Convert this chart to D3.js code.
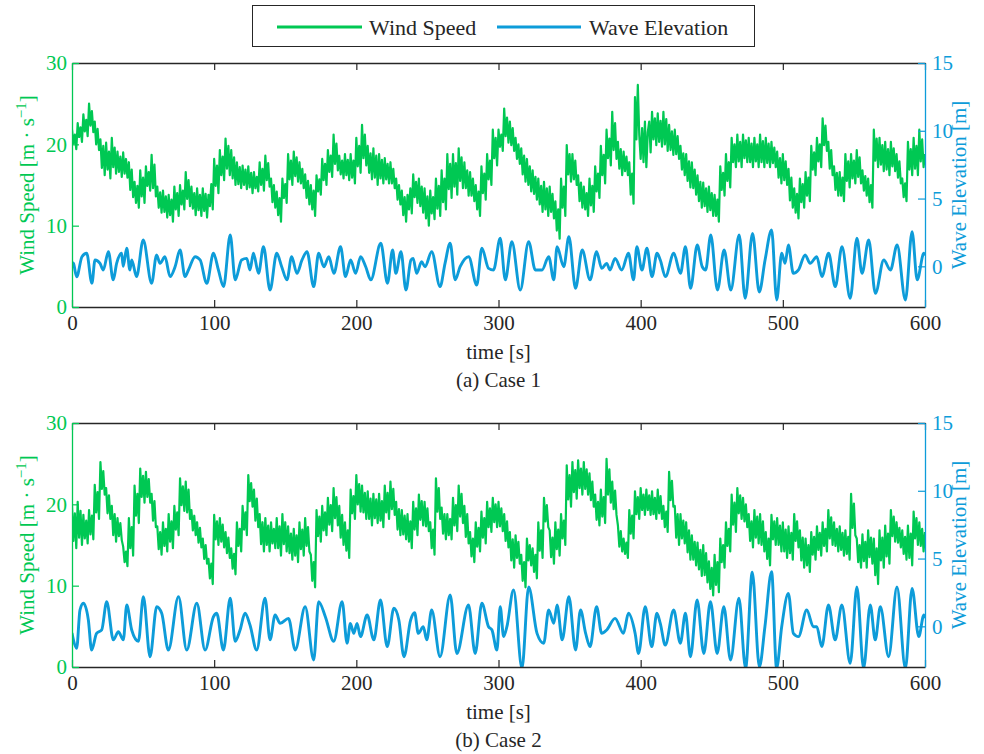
<!DOCTYPE html>
<html><head><meta charset="utf-8">
<script src="https://cdn.jsdelivr.net/npm/d3@7"></script>
<style>body{margin:0;background:#fff}svg{display:block}svg text{font-family:"Liberation Serif","DejaVu Serif",serif}</style>
</head><body><svg id="c" width="984" height="754"></svg>
<script>
// ---------- DATA ----------
const windStep = 1; // seconds between wind samples
const wind1 = [
21.8,20.1,21.2,19.4, 22.6,20.9,22.1,20.3, 23.7,21.6,23.0,21.0, 25.0,22.3,24.1,21.5, 22.8,20.0,21.9,19.3,
20.6,17.1,19.8,16.2, 20.2,16.9,19.1,15.8, 20.8,17.2,19.6,16.4, 19.1,16.6,18.5,16.0, 19.0,16.4,18.2,15.9,
17.8,14.4,16.9,13.5, 15.4,12.8,14.9,12.2, 16.8,13.6,15.9,12.8, 17.3,14.9,16.6,14.3, 18.7,14.6,17.5,13.6,
14.8,12.2,14.1,11.6, 14.3,11.7,13.6,11.0, 13.8,11.3,13.2,10.5, 14.8,12.0,14.0,11.2, 15.0,12.6,14.3,12.0,
16.6,13.3,15.6,12.4, 14.8,12.1,14.0,11.3, 14.6,11.9,13.8,11.2, 14.6,11.8,13.9,11.0, 13.8,12.4,15.1,12.0,
18.2,14.9,17.4,14.0, 19.3,16.2,18.5,15.6, 20.7,17.0,19.8,16.2, 19.3,15.8,18.4,15.0, 17.8,15.1,17.2,14.6,
17.4,15.0,16.9,14.5, 17.3,14.7,16.5,14.0, 16.6,14.6,16.0,14.2, 17.8,15.0,17.0,14.3, 18.6,15.6,17.7,14.8,
15.8,12.9,15.0,12.2, 14.2,11.3,13.4,10.5, 15.8,13.4,15.1,12.8, 18.8,15.7,18.0,15.0, 19.1,16.1,18.4,15.4,
17.8,15.2,17.0,14.6, 16.3,13.4,15.5,12.6, 15.0,12.0,14.3,11.2, 16.2,14.2,15.7,13.8, 18.2,15.6,17.6,15.0,
19.3,16.6,18.6,16.0, 21.2,17.6,20.1,16.8, 18.6,16.3,18.0,15.8, 18.8,16.2,18.1,15.6, 18.8,15.9,18.0,15.2,
20.8,17.3,19.8,16.5, 22.4,18.3,21.2,17.4, 19.8,16.5,18.9,15.7, 19.5,15.9,18.6,15.0, 18.8,15.8,18.1,15.2,
18.3,15.7,17.6,15.2, 17.8,15.2,17.0,14.6, 15.8,13.2,15.0,12.6, 14.3,11.3,13.5,10.5, 13.8,12.0,14.6,11.5,
16.3,13.5,15.4,12.8, 15.8,12.4,14.8,11.6, 14.6,10.9,13.6,10.0, 14.3,11.5,13.5,10.8, 15.8,12.1,14.9,11.2,
16.8,12.9,15.8,12.0, 18.8,14.5,17.6,13.4, 18.8,14.8,17.7,13.8, 19.5,15.5,18.4,14.6, 17.8,14.6,16.8,13.7,
16.6,13.7,15.8,13.0, 15.0,12.0,14.2,11.2, 17.3,14.0,16.4,13.2, 18.8,15.7,18.0,15.0, 21.8,18.3,20.8,17.4,
21.8,19.7,21.2,19.2, 24.4,21.0,23.3,20.2, 22.8,19.9,22.0,19.2, 20.8,18.2,20.0,17.6, 19.5,16.3,18.6,15.4,
18.2,15.0,17.3,14.2, 16.8,13.9,16.0,13.2, 15.8,12.6,14.9,11.7, 15.4,12.0,14.6,11.2, 14.8,11.7,13.9,10.9,
13.0,9.4,12.0,8.4, 15.8,12.2,14.8,11.2, 19.9,16.3,18.8,15.4, 18.8,15.7,18.0,15.0, 16.2,13.0,15.3,12.2,
14.8,12.0,14.0,11.2, 15.8,12.5,14.9,11.7, 17.3,14.2,16.4,13.4, 19.8,16.2,18.7,15.2, 21.8,18.3,20.7,17.4,
24.0,19.3,22.6,18.2, 20.3,17.0,19.4,16.2, 19.1,16.7,18.5,16.2, 17.8,13.8,16.4,12.7, 25.8,20.6,27.3,21.2,
18.2,22.0,17.8,22.8, 17.2,21.5,22.8,19.0, 24.0,20.6,23.2,19.9, 23.8,20.3,22.9,19.7, 24.0,20.0,23.1,19.2,
22.4,19.3,21.6,18.7, 21.8,18.8,21.0,18.2, 19.8,16.9,18.9,16.2, 18.8,15.5,17.9,14.7, 17.8,14.6,16.9,13.8,
16.2,13.0,15.4,12.2, 15.3,12.4,14.6,11.7, 14.8,11.9,14.0,11.2, 13.8,11.2,13.2,10.5, 17.3,14.4,16.5,13.7,
18.8,15.5,17.8,14.7, 20.8,17.8,20.0,17.2, 21.2,17.9,20.3,17.2, 21.2,18.3,20.5,17.8, 20.8,17.8,20.1,17.2,
20.8,17.9,20.0,17.2, 21.2,17.8,20.4,17.2, 20.8,17.7,20.1,17.2, 20.3,17.7,19.6,17.2, 19.1,15.9,18.3,15.2,
18.8,15.6,17.9,15.0, 17.0,13.1,15.9,12.2, 14.6,11.6,13.9,10.9, 15.8,12.9,15.1,12.2, 16.6,13.7,15.9,13.0,
19.8,16.9,19.0,16.2, 20.8,17.9,20.0,17.2, 23.2,19.9,22.3,19.2, 20.3,17.0,19.3,16.2, 17.3,14.4,16.5,13.7,
16.6,13.7,15.9,13.0, 18.8,15.5,17.9,14.7, 18.8,15.8,18.0,15.2, 19.3,16.0,18.4,15.2, 16.8,14.3,16.1,13.7,
15.8,12.9,15.0,12.2, 21.8,18.0,20.7,17.2, 20.8,17.5,19.9,16.7, 20.3,16.9,19.4,16.2, 20.3,17.3,19.5,16.7,
18.8,15.9,17.9,15.2, 15.8,13.5,15.2,13.0, 20.3,16.9,19.4,16.2, 20.8,17.0,19.8,16.2, 21.8,17.9,20.6,17.2,
18.8];
const wind2 = [
19.8,15.5,18.9,14.6, 20.3,15.9,19.2,15.0, 18.7,15.8,18.0,15.2, 19.3,16.3,18.6,15.7, 22.4,19.0,21.5,18.2,
25.2,21.9,24.1,21.2, 22.0,18.9,21.1,18.2, 19.8,16.2,18.8,15.4, 18.3,16.1,17.7,15.6, 14.8,12.9,14.2,12.4,
18.3,14.6,17.2,13.7, 22.3,18.6,21.3,17.7, 24.4,20.9,23.5,20.2, 24.0,20.9,23.1,20.2, 21.3,18.0,20.4,17.2,
17.3,14.5,16.6,13.8, 17.8,14.9,17.0,14.2, 18.8,15.4,17.9,14.6, 19.8,16.9,19.0,16.2, 23.2,19.9,22.2,19.2,
22.8,19.0,21.8,18.2, 19.3,16.8,18.6,16.2, 17.8,15.3,17.1,14.7, 15.8,13.3,15.0,12.7, 13.3,10.9,12.7,10.2,
18.7,15.7,17.9,15.0, 18.3,15.4,17.5,14.7, 16.6,14.0,15.9,13.4, 14.6,12.1,13.9,11.4, 17.8,14.9,17.0,14.2,
19.8,16.9,19.0,16.2, 23.6,20.4,22.6,19.7, 21.8,18.0,20.7,17.2, 18.8,15.1,17.8,14.2, 18.3,15.0,17.4,14.2,
17.8,15.2,17.0,14.6, 18.3,14.6,17.3,13.7, 18.8,15.1,17.8,14.2, 17.3,14.0,16.4,13.2, 17.0,13.7,16.2,12.9,
17.8,14.5,16.9,13.7, 18.3,14.9,17.2,14.2, 13.8,10.6,12.9,9.8, 19.3,16.1,18.5,15.4, 19.8,16.8,19.0,16.2,
20.8,17.5,19.9,16.7, 22.0,18.3,20.9,17.4, 19.8,15.9,18.7,15.0, 17.8,14.3,16.8,13.4, 21.8,18.9,21.0,18.2,
23.6,20.0,22.5,19.1, 22.3,19.0,21.4,18.2, 21.6,18.2,20.7,17.4, 21.3,18.3,20.6,17.7, 21.3,18.0,20.4,17.2,
22.3,19.0,21.4,18.2, 22.8,19.4,21.9,18.7, 20.3,16.9,19.4,16.2, 19.3,16.3,18.6,15.7, 18.8,15.4,17.9,14.6,
20.3,16.9,19.5,16.2, 21.2,18.1,20.4,17.4, 20.3,17.3,19.5,16.7, 17.8,14.6,16.9,13.8, 23.2,19.1,22.0,18.2,
19.6,16.4,18.8,15.7, 18.8,16.2,18.2,15.7, 20.8,17.4,19.9,16.7, 22.3,18.5,21.3,17.7, 19.8,16.0,18.8,15.2,
16.6,13.6,15.8,12.9, 17.8,14.8,17.1,14.2, 19.1,15.9,18.3,15.2, 20.3,17.2,19.5,16.6, 20.8,17.8,20.0,17.2,
20.3,17.3,19.5,16.7, 18.8,15.5,17.9,14.7, 16.6,13.1,15.7,12.2, 16.2,13.4,15.4,12.7, 13.8,10.6,12.9,9.8,
15.8,13.1,15.0,12.5, 14.6,11.7,13.8,10.9, 17.8,14.3,16.8,13.4, 20.8,17.9,19.9,17.2, 16.8,13.5,15.9,12.7,
17.8,14.5,16.9,13.7, 18.8,15.8,18.0,15.0, 24.8,20.6,23.6,19.7, 25.2,21.5,24.2,20.7, 25.4,22.0,24.4,21.2,
25.2,21.9,24.3,21.2, 23.8,20.5,22.8,19.7, 21.2,18.1,20.3,17.4, 21.8,18.5,20.9,17.7, 25.6,21.2,24.3,20.2,
22.8,19.4,21.7,18.7, 17.4,14.8,16.7,14.2, 15.8,13.9,15.3,13.4, 19.3,16.4,18.6,15.8, 21.6,18.8,20.9,18.2,
22.0,19.3,21.2,18.7, 21.8,19.3,21.1,18.7, 21.6,18.8,20.8,18.2, 21.8,18.9,21.0,18.2, 19.8,17.2,19.1,16.6,
24.0,20.5,22.9,19.7, 19.8,15.9,18.8,15.0, 18.8,15.8,18.0,15.2, 17.8,14.1,16.8,13.2, 16.2,13.2,15.4,12.5,
15.3,12.0,14.4,11.2, 15.0,11.3,14.0,10.4, 13.0,9.6,12.2,8.8, 13.8,10.1,12.9,9.2, 15.8,12.9,15.0,12.2,
17.8,14.9,17.0,14.2, 21.2,17.5,20.2,16.6, 22.0,18.9,21.1,18.2, 20.8,17.9,20.0,17.2, 18.8,15.5,17.9,14.7,
19.3,15.9,18.5,15.2, 18.8,15.0,17.9,14.2, 16.6,13.3,15.8,12.5, 18.7,15.7,17.9,15.0, 18.3,15.0,17.4,14.2,
17.8,14.2,16.9,13.4, 17.3,14.0,16.5,13.2, 18.8,15.5,17.9,14.7, 16.8,13.1,15.9,12.2, 15.8,12.5,15.0,11.7,
16.6,13.8,16.0,13.2, 17.3,14.4,16.5,13.7, 17.8,14.9,17.0,14.2, 19.3,15.8,18.4,15.0, 17.8,14.9,17.0,14.2,
17.3,14.4,16.5,13.7, 16.8,13.9,16.0,13.2, 21.3,17.1,20.1,16.2, 15.8,12.9,15.0,12.2, 16.3,13.0,15.4,12.2,
16.8,13.5,15.9,12.7, 15.8,11.3,14.6,10.2, 16.8,13.1,15.9,12.2, 17.4,13.6,16.4,12.7, 19.3,16.1,18.5,15.4,
17.8,15.3,17.1,14.7, 16.8,13.9,16.0,13.2, 17.4,13.4,16.4,12.5, 19.1,15.8,18.3,15.0, 17.8,14.9,17.0,14.2,
16.6];

const waveT1 = [0,1,3.3,7,10.3,14,16.2,19.7,22,25.6,29,31.4,34.9,36,38.5,40.7,42,45.4,50.1,56,59.5,61.9,65.4,69,72.5,76,79.5,81.9,86.6,90.1,94.8,99.5,103,106.6,111.3,114.8,119.3,122.9,125.2,127.6,131.2,134.7,139.3,144,147.5,151.2,154.5,158.2,161.8,165.3,170,173.5,177.2,180.6,184.2,188.9,192.4,196,199.5,203,206.6,210.2,217.2,221.9,225.5,227.8,231.4,234.9,238.4,240,242.4,245.9,248.3,253,258.9,262.4,266,269.5,273,279,284.7,288.3,293,296.5,301.2,304.8,309.4,315.3,321.2,325.9,330.6,335.3,338.9,341.2,345.9,349.5,354.2,358.9,364.4,369,372.6,376.1,378.4,382,386.7,391.4,395,397.3,400.9,404.4,408,411.5,413.8,417.4,423.3,428,431.5,435.1,439.8,443.3,445.7,449.3,454,458.7,463.4,469.3,473.5,478.7,483.4,487.5,492.1,495.7,499.2,501.6,503.9,507.4,511,515.7,519.2,523.9,527.5,532.2,536.9,541.6,547.4,552.1,555.7,560.4,565.1,571,575.7,580.4,586.2,590.9,594.5,599.2,600];
const waveE1 = [0.3,0.22,-0.77,0.71,0.97,-1.25,0.47,0.22,-0.27,1.08,-1.0,0.22,0.97,0.0,1.33,-0.27,0.47,-0.76,1.94,-1.25,0.84,0.22,0.71,-0.76,-0.03,1.2,-0.76,-0.27,0.71,0.47,-1.25,0.96,-0.27,-1.5,2.31,-1.0,0.47,0.59,-0.27,0.96,-0.52,1.45,-1.75,0.96,-0.03,-1.0,0.71,-0.52,0.47,1.08,-1.5,0.96,-0.03,0.71,-0.52,1.45,-0.76,0.47,-0.52,0.71,-0.03,-1.0,1.7,-1.25,1.2,-0.52,1.08,-1.75,0.47,0.59,-0.52,0.34,-0.03,1.08,-1.5,0.22,1.7,-1.0,-0.03,0.71,-1.38,1.33,-0.15,-0.27,2.07,-1.0,1.82,-1.75,1.82,-0.27,-0.27,0.71,-1.0,1.45,-0.03,2.19,-1.62,1.2,-1.0,1.08,-0.15,0.22,-0.27,0.59,-0.27,0.96,-1.0,1.45,-0.27,1.33,-0.76,0.96,0.47,-0.76,0.96,-0.52,1.45,-1.62,1.57,-0.03,-0.27,2.31,-1.75,1.2,-1.75,2.31,-2.36,2.43,-1.9,0.47,2.68,-2.48,0.96,0.22,1.57,-0.52,-0.27,0.84,0.22,0.71,-0.76,0.96,-1.5,1.45,-2.36,2.07,-0.52,1.94,-1.99,0.47,-0.27,1.57,-2.48,2.56,-1.0,0.96,0.8];

const waveT2 = [0,1,3.3,5.6,8,11.5,13.8,17.3,20.9,24.4,29.1,32.6,36.1,38.5,42,46.7,50.2,54.9,59.6,63.1,67.8,74.9,80.7,87.8,93.6,99.5,101.8,106.5,111.3,114.8,118.2,121.7,125.2,129.9,135.8,139.3,142.9,146.4,152.3,157,164,170,173.5,178.2,184.1,190,193.5,195.8,198.2,200.5,202.9,207.6,212.3,217,221.7,226.4,229.9,233.5,238.2,241,243.6,247.1,249.5,253,258.9,266,270.7,278.9,283.6,288.3,293,295.4,298.9,301.2,303.6,305.9,310.6,316.5,321.2,327.1,331.8,335.3,338.9,341.2,344.8,349.5,354.2,357.7,361.3,364.4,369,372.6,376.1,382,387.9,391.4,396.1,398.5,403.2,407.8,411.4,413.8,417.3,423.2,427.9,431.5,435,439.7,444.4,449.1,453.8,458.5,463.2,469.1,473.8,478.5,483.5,487.4,492.1,495.6,499.2,503.9,507.4,511,516.8,521.5,523.9,527.4,532.1,536.8,541.5,547.4,552.1,556.8,561.5,565,568.6,574.4,580.3,586.2,590.9,595.6,599.2,600];
const waveE2 = [-0.5,-1.0,-1.62,1.2,1.7,0.47,-1.75,-0.52,-0.27,1.82,-1.0,-0.4,-1.0,1.57,-0.27,-1.1,2.19,-2.24,1.45,0.96,-1.75,2.19,-1.75,1.7,-1.75,0.71,0.96,-1.75,2.07,-1.1,-0.27,0.96,0.1,-1.75,2.07,-1.0,0.84,0.22,0.59,-1.75,1.45,-2.48,1.82,0.71,-1.1,1.82,-1.25,0.22,-0.52,0.22,-0.76,0.84,-1.0,1.94,-1.5,1.33,0.47,-2.24,0.47,1.0,-0.52,-0.03,-1.0,1.2,-2.24,2.31,-2.0,1.57,-2.0,1.7,-0.03,-0.27,-1.75,1.45,-0.76,-0.03,2.68,-3.1,2.9,-0.52,-1.25,1.2,0.22,1.57,-1.0,2.19,-1.75,1.2,-0.52,-1.5,1.45,-0.52,-0.27,0.59,-0.52,0.96,-0.52,-2.0,1.45,-1.5,0.96,0.22,-1.38,1.2,-1.25,0.96,-2.24,1.94,-2.0,1.82,-2.0,1.45,-2.48,2.07,-3.1,4.0,-3.0,-0.03,4.03,-3.1,-0.03,2.43,-0.52,-0.76,1.2,-0.03,-0.03,-1.5,1.57,-1.0,1.57,-2.73,2.9,-3.1,1.57,-1.0,1.45,-2.24,2.9,-3.1,2.8,-0.76,0.84,0.6];

const timeTicks = [0,100,200,300,400,500,600];
const windTicks = [0,10,20,30];
const waveTicks = [0,5,10,15];
const captions = ["(a) Case 1","(b) Case 2"];
const seriesNames = ["Wind Speed","Wave Elevation"];

// ---------- STYLE ----------
const GREEN = "#00c853", BLUE = "#0d9cd9", DARK = "#262626";
const FONT = '"Liberation Serif", "DejaVu Serif", serif';
const svg = d3.select("#c");
const X0 = 72, X1 = 925;

function txt(sel, size) {
  return sel.attr("font-family", FONT).style("font-family", FONT).style("font-size", size + "px");
}

function panel(idx, top, wind, waveT, waveE) {
  const bottom = top + 244;
  const x = d3.scaleLinear().domain([0,600]).range([X0,X1]);
  const yL = d3.scaleLinear().domain([0,30]).range([bottom,top]);
  const yR = d3.scaleLinear().domain([-3,15]).range([bottom,top]);
  const g = svg.append("g");
  const cid = "clip"+idx;
  g.append("clipPath").attr("id",cid).append("rect")
    .attr("x",X0).attr("y",top).attr("width",X1-X0).attr("height",bottom-top);

  const waveData = waveT.map((t,i)=>[t,waveE[i]]);
  g.append("path").datum(waveData).attr("clip-path",`url(#${cid})`)
    .attr("fill","none").attr("stroke",BLUE).attr("stroke-width",2.9)
    .attr("stroke-linejoin","round")
    .attr("d", d3.line().x(d=>x(d[0])).y(d=>yR(d[1])).curve(d3.curveMonotoneX));

  g.append("path").datum(wind).attr("clip-path",`url(#${cid})`)
    .attr("fill","none").attr("stroke",GREEN).attr("stroke-width",2.2)
    .attr("stroke-linejoin","round")
    .attr("d", d3.line().x((d,i)=>x(i*windStep)).y(d=>yL(d)));

  const ax = (sel, color) => {
    sel.selectAll("path.domain").attr("stroke",color).attr("stroke-width",1.3);
    sel.selectAll(".tick line").attr("stroke",color).attr("stroke-width",1.2);
    txt(sel.selectAll("text").attr("fill",color), 21);
  };
  const gb = g.append("g").attr("transform",`translate(0,${bottom})`)
    .call(d3.axisBottom(x).tickValues(timeTicks).tickSize(-7).tickSizeOuter(0).tickPadding(8));
  ax(gb, DARK);
  const gt = g.append("g").attr("transform",`translate(0,${top})`)
    .call(d3.axisTop(x).tickValues(timeTicks).tickSize(-7).tickSizeOuter(0).tickFormat(""));
  ax(gt, DARK);
  const gl = g.append("g").attr("transform",`translate(${X0},0)`)
    .call(d3.axisLeft(yL).tickValues(windTicks).tickSize(-7).tickSizeOuter(0).tickPadding(5));
  ax(gl, GREEN);
  const gr = g.append("g").attr("transform",`translate(${X1},0)`)
    .call(d3.axisRight(yR).tickValues(waveTicks).tickSize(-7).tickSizeOuter(0).tickPadding(7));
  ax(gr, BLUE);

  const mid = (top+bottom)/2;
  const tl = txt(g.append("text").attr("transform",`translate(34,${mid}) rotate(-90)`)
    .attr("text-anchor","middle").attr("fill",GREEN), 21);
  tl.append("tspan").text("Wind Speed [m · s");
  tl.append("tspan").attr("dy",-8).style("font-size","15px").text("−1");
  tl.append("tspan").attr("dy",8).text("]");

  txt(g.append("text").attr("transform",`translate(966,${mid}) rotate(-90)`)
    .attr("text-anchor","middle").attr("fill",BLUE), 21).text("Wave Elevation [m]");

  txt(g.append("text").attr("x",(X0+X1)/2).attr("y",bottom+52).attr("text-anchor","middle")
    .attr("fill",DARK), 21).text("time [s]");
  txt(g.append("text").attr("x",(X0+X1)/2).attr("y",bottom+80).attr("text-anchor","middle")
    .attr("fill",DARK), 21).text(captions[idx]);
}

panel(0, 63, wind1, waveT1, waveE1);
panel(1, 423, wind2, waveT2, waveE2);

// ---------- LEGEND ----------
const lg = svg.append("g");
lg.append("rect").attr("x",252.5).attr("y",5.5).attr("width",502).attr("height",41)
  .attr("fill","#fff").attr("stroke",DARK).attr("stroke-width",1);
const items = [{name:seriesNames[0],color:GREEN,x1:277,x2:362,tx:369},
               {name:seriesNames[1],color:BLUE,x1:497,x2:581,tx:589}];
items.forEach(it=>{
  lg.append("line").attr("x1",it.x1).attr("x2",it.x2).attr("y1",27).attr("y2",27)
    .attr("stroke",it.color).attr("stroke-width",2.9);
  txt(lg.append("text").attr("x",it.tx).attr("y",35).attr("fill",DARK), 22).text(it.name);
});
</script></body></html>
